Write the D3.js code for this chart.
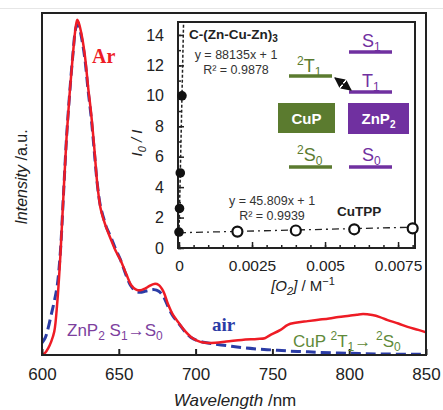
<html>
<head>
<meta http-equiv="content-type" content="text/html; charset=UTF8">
<title>Emission spectra</title>
</head>
<style type="text/css">
body { margin: 0; padding: 0; overflow: hidden; background: #fff; font-family: Arial, "Liberation Sans", sans-serif; }
</style>
<body>
<div id="chart"></div>
<script type="text/javascript" src="https://cdnjs.cloudflare.com/ajax/libs/d3/7.8.5/d3.min.js"></script>
<script type="text/javascript">

// Ar (deaerated) spectrum
var arWl = [600,602,604,606,608,610,612,614,616,618,620,622,623,624,626,628,630,632,634,636,638,640,642,645,648,651,655,658,661,664,667,670,673,676,679,682,685,689,693,697,701,705,710,720,730,740,745,748,755,760,765,773,780,787,793,800,805,809,815,820,825,832,838,845,850];
var arI  = [0,0.006,0.02,0.04,0.07,0.16,0.3,0.48,0.65,0.78,0.89,0.98,1.0,0.99,0.95,0.89,0.8,0.72,0.62,0.51,0.44,0.405,0.378,0.343,0.31,0.284,0.24,0.209,0.196,0.193,0.198,0.206,0.212,0.209,0.19,0.152,0.122,0.096,0.072,0.054,0.043,0.037,0.036,0.04,0.045,0.048,0.05,0.058,0.074,0.09,0.096,0.101,0.105,0.109,0.113,0.117,0.12,0.122,0.119,0.113,0.104,0.094,0.084,0.075,0.068];
// air spectrum
var airWl = [600,602,604,606,608,610,612,614,616,618,620,622,623,624,626,628,630,632,634,636,638,640,642,645,648,651,655,658,661,664,667,670,673,676,679,682,685,689,693,697,701,705,710,720,730,740,750,760,770,780,800,820,850];
var airI  = [0.036,0.05,0.08,0.12,0.16,0.21,0.31,0.48,0.65,0.78,0.89,0.975,0.985,0.98,0.94,0.88,0.79,0.71,0.61,0.51,0.445,0.41,0.38,0.35,0.315,0.285,0.235,0.205,0.19,0.187,0.19,0.193,0.195,0.19,0.175,0.145,0.118,0.094,0.07,0.052,0.043,0.038,0.034,0.028,0.022,0.018,0.015,0.012,0.01,0.008,0.005,0.003,0.002];
var xTicks = [600,650,700,750,800,850];

// Stern-Volmer inset
var cuO2 = [0, 0.0000175, 0.000044, 0.000102];
var cuRatio = [1.05, 2.6, 4.93, 10];
var tppO2 = [0.002, 0.004, 0.006, 0.008];
var tppRatio = [1.08, 1.15, 1.23, 1.29];
var cuFit = {slope: 88135, icpt: 1};
var tppFit = {slope: 45.809, icpt: 1};
var insetYTicks = [0,2,4,6,8,10,12,14];
var insetXTicks = [0,0.0025,0.005,0.0075];

var W = 443, H = 410;
var svg = d3.select("#chart").append("svg").attr("width", W).attr("height", H);

svg.append("line").attr("x1", 0).attr("x2", W).attr("y1", 8.5).attr("y2", 8.5)
    .attr("stroke", "#e6e6e6").attr("stroke-width", 1);

var x = d3.scaleLinear().domain([600, 850]).range([42, 426]);
var y = d3.scaleLinear().domain([0, 1.02]).range([355, 13]);

var line = d3.line().x(function(d){ return x(d[0]); }).y(function(d){ return y(d[1]); })
    .curve(d3.curveCatmullRom.alpha(0.5));

svg.append("clipPath").attr("id", "mainclip").append("rect")
    .attr("x", 42).attr("y", 13).attr("width", 384).attr("height", 342);

var plot = svg.append("g").attr("clip-path", "url(#mainclip)");

plot.append("path")
    .datum(d3.zip(airWl, airI))
    .attr("d", line)
    .attr("fill", "none")
    .attr("stroke", "#2b3ca6")
    .attr("stroke-width", 3)
    .attr("stroke-dasharray", "10,5");

plot.append("path")
    .datum(d3.zip(arWl, arI))
    .attr("d", line)
    .attr("fill", "none")
    .attr("stroke", "#ee1c25")
    .attr("stroke-width", 2.5);

// main frame
svg.append("rect").attr("x", 42).attr("y", 13).attr("width", 384).attr("height", 342)
    .attr("fill", "none").attr("stroke", "#222").attr("stroke-width", 2);

var xAxis = svg.append("g").attr("transform", "translate(0,355)")
    .call(d3.axisBottom(x).tickValues(xTicks).tickSize(-6).tickPadding(13).tickFormat(d3.format("d")));
xAxis.select(".domain").remove();
xAxis.selectAll("line").attr("stroke", "#222").attr("stroke-width", 2);
xAxis.selectAll("text").attr("font-size", 17).attr("font-family", "Arial").attr("fill", "#222");

var xt = svg.append("text").attr("x", 235).attr("y", 406).attr("text-anchor", "middle")
    .attr("font-size", 17).attr("fill", "#222");
xt.append("tspan").attr("font-style", "italic").text("Wavelength");
xt.append("tspan").text(" /nm");

var yt = svg.append("text").attr("transform", "translate(27,177) rotate(-90)")
    .attr("text-anchor", "middle").attr("font-size", 16).attr("fill", "#222");
yt.append("tspan").attr("font-style", "italic").text("Intensity");
yt.append("tspan").text(" /a.u.");

// curve labels
svg.append("text").attr("x", 92).attr("y", 63).attr("font-family", "Liberation Serif, Times New Roman, serif")
    .attr("font-weight", "bold").attr("font-size", 20).attr("fill", "#ee1c25").text("Ar");
svg.append("text").attr("x", 212).attr("y", 331).attr("font-family", "Liberation Serif, Times New Roman, serif")
    .attr("font-weight", "bold").attr("font-size", 19).attr("fill", "#2b3ca6").text("air");

var zl = svg.append("text").attr("x", 67).attr("y", 336).attr("font-size", 17).attr("fill", "#7d3f9e");
zl.append("tspan").text("ZnP");
zl.append("tspan").attr("font-size", 12).attr("dy", 4).text("2");
zl.append("tspan").attr("dy", -4).text(" S");
zl.append("tspan").attr("font-size", 12).attr("dy", 4).text("1");
zl.append("tspan").attr("dy", -4).text("\u2192S");
zl.append("tspan").attr("font-size", 12).attr("dy", 4).text("0");

var cl = svg.append("text").attr("x", 293).attr("y", 347).attr("font-size", 17).attr("fill", "#5f8a3a");
cl.append("tspan").text("CuP ");
cl.append("tspan").attr("font-size", 12).attr("dy", -7).text("2");
cl.append("tspan").attr("dy", 7).text("T");
cl.append("tspan").attr("font-size", 12).attr("dy", 4).text("1");
cl.append("tspan").attr("dy", -4).text("\u2192 ");
cl.append("tspan").attr("font-size", 12).attr("dy", -7).text("2");
cl.append("tspan").attr("dy", 7).text("S");
cl.append("tspan").attr("font-size", 12).attr("dy", 4).text("0");

// ---- inset ----
var ix = d3.scaleLinear().domain([-0.000034, 0.00808]).range([178, 415]);
var iy = d3.scaleLinear().domain([0, 14.85]).range([248, 22]);

svg.append("rect").attr("x", 178).attr("y", 22).attr("width", 237).attr("height", 226)
    .attr("fill", "#fff").attr("stroke", "#222").attr("stroke-width", 2);

var inset = svg.append("g");

// minor ticks
var ixMinor = inset.append("g").attr("transform", "translate(0,248)")
    .call(d3.axisBottom(ix).tickValues(d3.range(0, 0.0081, 0.0005)).tickSize(-3).tickFormat(""));
var iyMinor = inset.append("g").attr("transform", "translate(178,0)")
    .call(d3.axisLeft(iy).tickValues(d3.range(0, 15, 1)).tickSize(-3).tickFormat(""));

var ixAxis = inset.append("g").attr("transform", "translate(0,248)")
    .call(d3.axisBottom(ix).tickValues(insetXTicks).tickSize(-6).tickPadding(12)
        .tickFormat(function(d){ return d === 0 ? "0" : String(+d.toFixed(4)); }));
var iyAxis = inset.append("g").attr("transform", "translate(178,0)")
    .call(d3.axisLeft(iy).tickValues(insetYTicks).tickSize(-6).tickPadding(14));

[ixMinor, iyMinor, ixAxis, iyAxis].forEach(function(g){
    g.select(".domain").remove();
    g.selectAll("line").attr("stroke", "#222").attr("stroke-width", 1.5);
    g.selectAll("text").attr("font-size", 16).attr("font-family", "Arial").attr("fill", "#222");
});
ixAxis.selectAll("text").attr("font-size", 15.5);

var ixl = svg.append("text").attr("x", 303).attr("y", 291).attr("text-anchor", "middle")
    .attr("font-size", 15).attr("fill", "#222");
ixl.append("tspan").attr("font-style", "italic").text("[O");
ixl.append("tspan").attr("font-style", "italic").attr("font-size", 11).attr("dy", 4).text("2");
ixl.append("tspan").attr("font-style", "italic").attr("dy", -4).text("]");
ixl.append("tspan").text(" / M");
ixl.append("tspan").attr("font-size", 11).attr("dy", -6).text("\u22121");

var iyl = svg.append("text").attr("transform", "translate(142,143) rotate(-90)")
    .attr("text-anchor", "middle").attr("font-size", 15).attr("fill", "#222");
iyl.append("tspan").attr("font-style", "italic").text("I");
iyl.append("tspan").attr("font-style", "italic").attr("font-size", 11).attr("dy", 4).text("0");
iyl.append("tspan").attr("font-style", "italic").attr("dy", -4).text(" / I");

// fit lines
var yMaxIn = iy.domain()[1];
inset.append("line")
    .attr("x1", ix(0)).attr("y1", iy(cuFit.icpt))
    .attr("x2", ix((yMaxIn - cuFit.icpt) / cuFit.slope)).attr("y2", iy(yMaxIn))
    .attr("stroke", "#222").attr("stroke-width", 1.5).attr("stroke-dasharray", "3,2");
inset.append("line")
    .attr("x1", ix(0)).attr("y1", iy(tppFit.icpt))
    .attr("x2", ix(0.008)).attr("y2", iy(tppFit.slope * 0.008 + tppFit.icpt))
    .attr("stroke", "#222").attr("stroke-width", 1.3).attr("stroke-dasharray", "7,4,2,4");

inset.selectAll("circle.tpp").data(d3.zip(tppO2, tppRatio)).enter().append("circle")
    .attr("class", "tpp")
    .attr("cx", function(d){ return ix(d[0]); }).attr("cy", function(d){ return iy(d[1]); })
    .attr("r", 5).attr("fill", "#fff").attr("stroke", "#111").attr("stroke-width", 2.2);
inset.selectAll("circle.cu").data(d3.zip(cuO2, cuRatio)).enter().append("circle")
    .attr("class", "cu")
    .attr("cx", function(d){ return ix(d[0]); }).attr("cy", function(d){ return iy(d[1]); })
    .attr("r", 4.8).attr("fill", "#111");

// inset annotations
var ct = svg.append("text").attr("x", 189).attr("y", 39).attr("font-size", 13.5).attr("font-weight", "bold").attr("fill", "#222");
ct.append("tspan").text("C-(Zn-Cu-Zn)");
ct.append("tspan").attr("font-size", 10).attr("dy", 3).text("3");

function eqText(cx, cy, lines, size) {
    lines.forEach(function(t, i){
        svg.append("text").attr("x", cx).attr("y", cy + i * 14.5).attr("text-anchor", "middle")
            .attr("font-size", size).attr("fill", "#333").text(t);
    });
}
eqText(236, 59, ["y = 88135x + 1", "R\u00b2 = 0.9878"], 12.5);
eqText(272, 205, ["y = 45.809x + 1", "R\u00b2 = 0.9939"], 12.5);
svg.append("text").attr("x", 337).attr("y", 216).attr("font-size", 13.5).attr("font-weight", "bold")
    .attr("fill", "#222").text("CuTPP");

// energy diagram
var green = "#5b7b2f", purple = "#7030a0";
function level(x1, x2, yy, col) {
    svg.append("line").attr("x1", x1).attr("x2", x2).attr("y1", yy).attr("y2", yy)
        .attr("stroke", col).attr("stroke-width", 3.5);
}
function stateLabel(xx, yy, sup, main, sub, col) {
    var t = svg.append("text").attr("x", xx).attr("y", yy).attr("font-size", 18).attr("fill", col);
    if (sup) t.append("tspan").attr("font-size", 12).attr("dy", -7).text(sup);
    t.append("tspan").attr("dy", sup ? 7 : 0).text(main);
    t.append("tspan").attr("font-size", 12).attr("dy", 4).text(sub);
}
level(349, 392, 52, purple);
stateLabel(362, 47, null, "S", "1", purple);
level(289, 332, 76, green);
stateLabel(297, 72, "2", "T", "1", green);
level(349, 392, 92, purple);
stateLabel(362, 87, null, "T", "1", purple);
level(289, 332, 167, green);
stateLabel(297, 161, "2", "S", "0", green);
level(349, 392, 167, purple);
stateLabel(362, 161, null, "S", "0", purple);

svg.append("rect").attr("x", 278).attr("y", 103).attr("width", 57).attr("height", 30).attr("fill", green);
svg.append("text").attr("x", 306.5).attr("y", 124).attr("text-anchor", "middle").attr("font-size", 15)
    .attr("font-weight", "bold").attr("fill", "#fff").text("CuP");
svg.append("rect").attr("x", 348).attr("y", 103).attr("width", 61).attr("height", 31).attr("fill", purple);
var zb = svg.append("text").attr("x", 378.5).attr("y", 124).attr("text-anchor", "middle").attr("font-size", 15)
    .attr("font-weight", "bold").attr("fill", "#fff");
zb.append("tspan").text("ZnP");
zb.append("tspan").attr("font-size", 10).attr("dy", 4).text("2");

// double arrow between 2T1 and T1
var defs = svg.append("defs");
defs.append("marker").attr("id", "ah").attr("viewBox", "0 0 10 10").attr("refX", 9).attr("refY", 5)
    .attr("markerWidth", 7).attr("markerHeight", 7).attr("orient", "auto-start-reverse")
    .append("path").attr("d", "M0,0 L10,5 L0,10 z").attr("fill", "#111");
svg.append("line").attr("x1", 335).attr("y1", 78).attr("x2", 351).attr("y2", 90)
    .attr("stroke", "#111").attr("stroke-width", 1.5)
    .attr("marker-start", "url(#ah)").attr("marker-end", "url(#ah)");

</script>
</body>
</html>
